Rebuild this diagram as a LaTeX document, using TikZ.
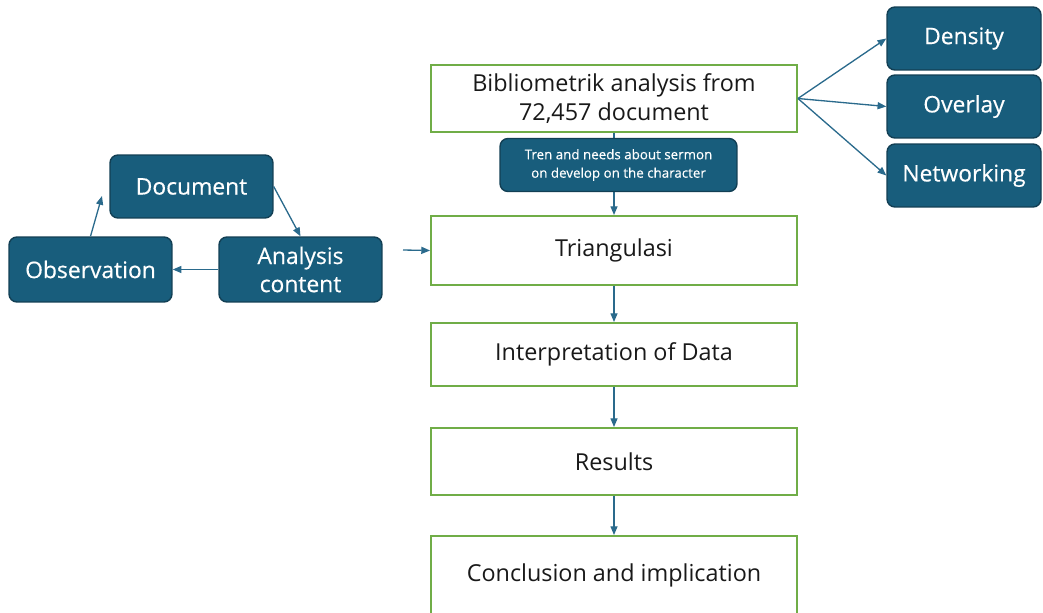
\documentclass[tikz,border=0pt]{standalone}
\usepackage{fontspec}
\setmainfont{Open Sans}
\newfontfamily\boxfont{Open Sans}[FakeBold=0.4]
\usepackage{xcolor}
\usepackage{tikz}
\usetikzlibrary{arrows.meta}

\definecolor{boxblue}{HTML}{185D7C}
\definecolor{boxedge}{HTML}{123F54}
\definecolor{stepgreen}{HTML}{70AD47}
\definecolor{arrowblue}{HTML}{2A6A8C}

\begin{document}
\begin{tikzpicture}[x=0.02cm, y=-0.02cm,
    stepbox/.style={draw=stepgreen, line width=1.1pt, fill=white, inner sep=0pt,
        minimum width=7.32cm, align=center, font=\fontsize{13.3}{16.5}\selectfont, text=black!90},
    darkbox/.style={draw=boxedge, line width=0.8pt, fill=boxblue, rounded corners=4.5pt,
        inner sep=0pt, align=center, text=white, font=\boxfont\fontsize{13}{16}\selectfont},
    arr/.style={draw=arrowblue, line width=0.75pt, -{Triangle[length=5pt, width=4pt]}}]
    % 画布范围
    \useasboundingbox (0,0) rectangle (1043,612);
    \clip (0,0) rectangle (1043,612);

    % 主流程(绿色边框)
    \node[stepbox, minimum height=1.34cm] (biblio) at (614,98.5) {Bibliometrik analysis from\\72,457 document};
    \node[stepbox, minimum height=1.38cm] (triang) at (614,250.5) {Triangulasi};
    \node[stepbox, minimum height=1.26cm] (interp) at (614,354.5) {Interpretation of Data};
    \node[stepbox, minimum height=1.34cm] (result) at (614,461.5) {Results};
    \node[stepbox, minimum height=2.08cm] (conclu) at (614,588) {};
    \node[font=\fontsize{13.3}{16.5}\selectfont, text=black!90] (conclutext) at (614,575) {Conclusion and implication};

    % 主流程箭头
    \draw[arr] (biblio.south) -- (triang.north);
    \draw[arr] (triang.south) -- (interp.north);
    \draw[arr] (interp.south) -- (result.north);
    \draw[arr] (result.south) -- (conclu.north);

    % 中间说明框
    \node[darkbox, minimum width=4.74cm, minimum height=1.06cm,
        font=\boxfont\fontsize{7.6}{10.5}\selectfont] (trend) at (618.5,165)
        {Tren and needs about sermon\\on develop on the character};

    % 右侧三个可视化
    \node[darkbox, minimum width=3.08cm, minimum height=1.26cm] (density) at (964,38.5) {Density};
    \node[darkbox, minimum width=3.08cm, minimum height=1.26cm] (overlay) at (964,106.5) {Overlay};
    \node[darkbox, minimum width=3.08cm, minimum height=1.26cm] (netw) at (964,175.5) {Networking};

    \draw[arr] (biblio.east) -- (density.west);
    \draw[arr] (biblio.east) -- (overlay.west);
    \draw[arr] (biblio.east) -- (netw.west);

    % 左侧循环
    \node[darkbox, minimum width=3.26cm, minimum height=1.26cm] (doc) at (191.5,186.5) {Document};
    \node[darkbox, minimum width=3.26cm, minimum height=1.3cm] (obs) at (90.5,269.5) {Observation};
    \node[darkbox, minimum width=3.26cm, minimum height=1.3cm] (ana) at (300.5,269.5) {Analysis\\content};

    \coordinate (docin) at (102,196);
    \coordinate (lead) at (403,250);

    \draw[arr] (obs.north) -- (docin);
    \draw[arr] (doc.east) -- (ana.north);
    \draw[arr] (ana.west) -- (obs.east);
    \draw[arr] (lead) -- (triang.west);
\end{tikzpicture}
\end{document}
